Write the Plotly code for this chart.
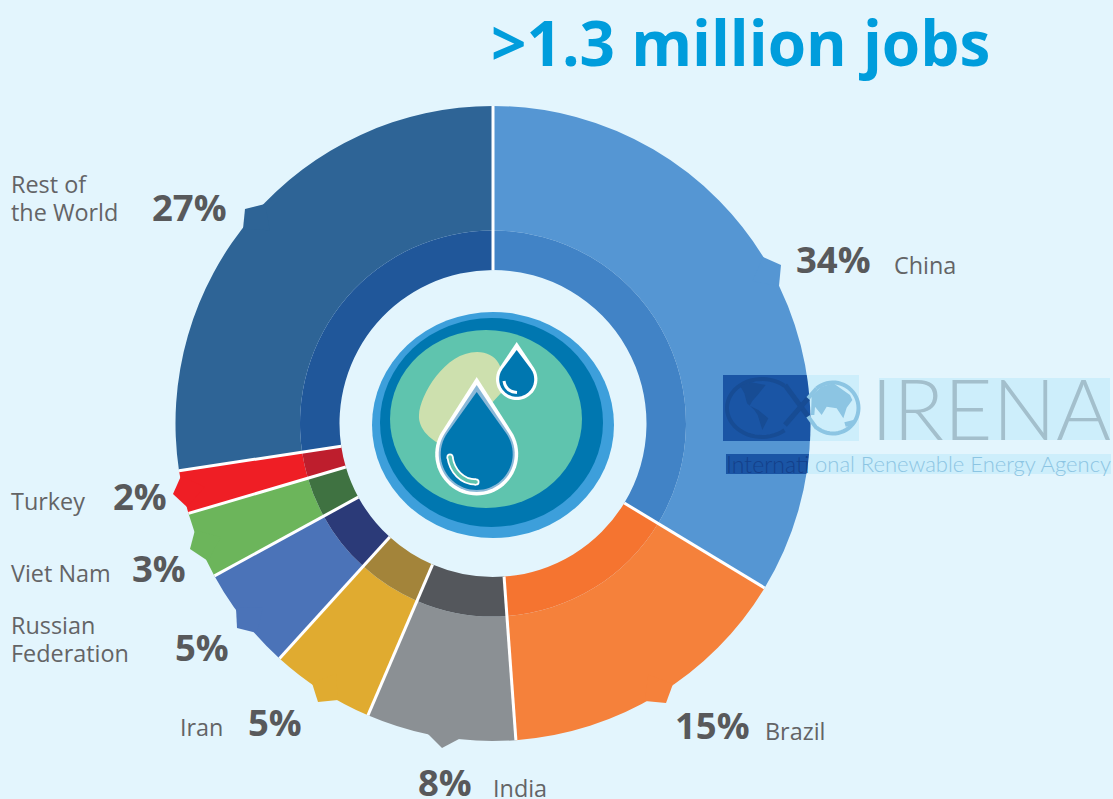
import math
import plotly.graph_objects as go

W, H = 1113, 799
categories = ["China", "Brazil", "India", "Iran", "Russian Federation", "Viet Nam", "Turkey", "Rest of the World"]
slice_values = [33.7, 15.2, 7.6, 5.3, 5.3, 3.4, 2.2, 27.4]
percent_labels = ["34%", "15%", "8%", "5%", "5%", "3%", "2%", "27%"]
outer_colors = ["#5596d3", "#f5813b", "#8b9094", "#e0ab30", "#4b73b8", "#6cb55b", "#ef1e25", "#2e6496"]
inner_colors = ["#4183c6", "#f57430", "#54575c", "#a3843a", "#2b3a78", "#3f7241", "#be1e2d", "#20579a"]

BG = "#e3f5fd"
CX, CY, R_OUT, R_MID, R_HOLE = 493, 423.5, 317.5, 193, 153.5
TXT = "#58595b"
LBL = "#636466"

def px(x, y):
    return f"{x / W:.5f},{1 - y / H:.5f}"

def poly(points, close=True):
    s = "M" + " L".join(px(x, y) for x, y in points)
    return s + (" Z" if close else "")

def fill_shape(path, color, opacity=1):
    return dict(type="path", xref="paper", yref="paper", path=path, fillcolor=color,
                line=dict(width=0), opacity=opacity, layer="above")

def stroke_shape(path, color, width):
    return dict(type="path", xref="paper", yref="paper", path=path, fillcolor="rgba(0,0,0,0)",
                line=dict(color=color, width=width), layer="above")

def ellipse(cx, cy, rx, ry, color):
    return dict(type="circle", xref="paper", yref="paper", x0=(cx - rx) / W, x1=(cx + rx) / W,
                y0=1 - (cy + ry) / H, y1=1 - (cy - ry) / H, fillcolor=color, line=dict(width=0), layer="above")

def rect(x0, y0, x1, y1, color):
    return dict(type="rect", xref="paper", yref="paper", x0=x0 / W, x1=x1 / W, y0=1 - y1 / H, y1=1 - y0 / H,
                fillcolor=color, line=dict(width=0), layer="above")

def teardrop(cx, cy, r, tip_y):
    d = cy - tip_y
    a = math.acos(r / d)
    pts = [(cx, tip_y)]
    n = 48
    start = -math.pi / 2 + a
    end = 3 * math.pi / 2 - a
    for i in range(n + 1):
        t = start + (end - start) * i / n
        pts.append((cx + r * math.cos(t), cy + r * math.sin(t)))
    return poly(pts)

fig = go.Figure()
fig.add_trace(go.Pie(labels=categories, values=slice_values, sort=False, direction="clockwise", rotation=0,
                     hole=R_MID / R_OUT, textinfo="none", showlegend=False, marker=dict(colors=outer_colors),
                     domain=dict(x=[(CX - R_OUT) / W, (CX + R_OUT) / W],
                                 y=[1 - (CY + R_OUT) / H, 1 - (CY - R_OUT) / H])))
fig.add_trace(go.Pie(labels=categories, values=slice_values, sort=False, direction="clockwise", rotation=0,
                     hole=R_HOLE / R_MID, textinfo="none", showlegend=False, marker=dict(colors=inner_colors),
                     domain=dict(x=[(CX - R_MID) / W, (CX + R_MID) / W],
                                 y=[1 - (CY + R_MID) / H, 1 - (CY - R_MID) / H])))

shapes = []

# callout notches on the outer rim
notches = [
    ([(763, 257), (781, 265), (779, 286)], outer_colors[0]),
    ([(673, 684), (666, 703), (645, 701)], outer_colors[1]),
    ([(459, 739), (442, 748), (428, 734)], outer_colors[2]),
    ([(338, 700), (318, 702), (312, 683)], outer_colors[3]),
    ([(257, 633), (237, 628), (236, 608)], outer_colors[4]),
    ([(208, 561), (190, 549), (195, 530)], outer_colors[5]),
    ([(181, 476), (173, 494), (187, 507)], outer_colors[6]),
    ([(265, 204), (245, 209), (243, 229)], outer_colors[7]),
]
for pts, col in notches:
    mx = sum(p[0] for p in pts) / 3
    my = sum(p[1] for p in pts) / 3
    d = math.hypot(mx - CX, my - CY)
    inner = (mx + (CX - mx) * 25 / d, my + (CY - my) * 25 / d)
    shapes.append(fill_shape(poly(pts + [inner]), col))

# white separators derived from the slice values
total = sum(slice_values)
cum = 0
for v in slice_values:
    ang = cum / total * 2 * math.pi
    sx, sy = math.sin(ang), -math.cos(ang)
    shapes.append(stroke_shape(poly([(CX + R_HOLE * sx, CY + R_HOLE * sy), (CX + R_OUT * sx, CY + R_OUT * sy)], False),
                               "white", 3))
    cum += v

# centre icon
big_hi = f"M{px(450, 457)} C{px(452, 471)} {px(462, 482)} {px(476, 482)}"
shapes += [
    ellipse(493, 425, 121, 113, "#3d9fdb"),
    ellipse(491.5, 422.5, 111.5, 104.5, "#0077b0"),
    ellipse(486, 419, 96, 89, "#5fc4ae"),
    fill_shape(f"M{px(477, 352)} C{px(497, 352)} {px(506, 368)} {px(502, 392)} L{px(450, 448)} "
               f"C{px(430, 442)} {px(418, 428)} {px(419, 415)} C{px(420, 395)} {px(445, 352)} {px(477, 352)} Z", "#cde0ae"),
    fill_shape(teardrop(476.7, 454, 41.5, 377), "white"),
    fill_shape(teardrop(476.7, 454, 38, 385), "#8ab8d8"),
    fill_shape(teardrop(476.7, 454, 36, 392), "#0077b0"),
    ellipse(450, 457, 3.5, 3.5, "white"),
    ellipse(476, 482, 3.5, 3.5, "white"),
    stroke_shape(big_hi, "white", 7),
    ellipse(450, 457, 1.8, 1.8, "#5fc4ae"),
    ellipse(476, 482, 1.8, 1.8, "#5fc4ae"),
    stroke_shape(big_hi, "#5fc4ae", 3.5),
    fill_shape(teardrop(516.7, 379.3, 20.7, 342), "white"),
    fill_shape(teardrop(516.7, 379.3, 17.5, 350), "#0077b0"),
    stroke_shape(f"M{px(504, 381)} C{px(505, 388)} {px(510, 392)} {px(517, 392.5)}", "white", 3),
]

# watermark
def rim_x(y):
    return CX + math.sqrt(R_OUT ** 2 - (y - CY) ** 2)

LOGO_BG = "#cdeefb"
LOGO_DARK = "#1a55a5"
LOGO_DARKER = "#174c94"
LOGO_MID = "#8cc5e3"
shapes += [
    rect(723, 375, 859, 441, LOGO_BG),
    rect(879, 378, 1110, 440, LOGO_BG),
    rect(726, 454, 1111, 474, LOGO_BG),
    fill_shape(poly([(723, 375)] + [(rim_x(375 + i * 6.6), 375 + i * 6.6) for i in range(11)] + [(723, 441)]), LOGO_DARK),
    fill_shape(poly([(726, 454)] + [(rim_x(454 + i * 2), 454 + i * 2) for i in range(11)] + [(726, 474)]), LOGO_DARK),
]

def z(x, y):
    return (715 + x / 3, 365 + y / 3)

def arc(cx, cy, rx, ry, a0, a1, n=40):
    return [(cx + rx * math.cos(math.radians(a0 + (a1 - a0) * i / n)),
             cy + ry * math.sin(math.radians(a0 + (a1 - a0) * i / n))) for i in range(n + 1)]

americas = [(75, 62), (110, 52), (152, 60), (128, 90), (112, 108), (104, 122), (130, 135), (160, 160), (142, 195),
            (128, 150), (118, 135), (96, 115), (88, 85)]
asia = [(290, 92), (320, 65), (355, 55), (405, 90), (412, 105), (395, 128), (385, 160), (365, 130), (335, 125),
        (320, 150), (300, 125), (298, 150), (288, 150)]
australia = [(388, 172), (415, 165), (410, 182), (392, 185)]
shapes += [
    stroke_shape(poly(arc(833, 408, 25.5, 25.5, -130, 130), False), LOGO_MID, 4),
    fill_shape(poly([z(x, y) for x, y in asia]), LOGO_MID),
    fill_shape(poly([z(x, y) for x, y in australia]), LOGO_MID),
    stroke_shape(poly(arc(762, 408, 35, 29, 50, 310), False), LOGO_DARKER, 4),
    fill_shape(poly([z(x, y) for x, y in americas]), LOGO_DARKER),
    stroke_shape(poly([z(210, 60), z(279, 154)], False), LOGO_DARKER, 5),
    stroke_shape(poly([z(210, 180), z(279, 100)], False), LOGO_DARKER, 5),
    stroke_shape(poly([z(279, 154), z(305, 190)], False), LOGO_MID, 4),
    stroke_shape(poly([z(279, 100), z(305, 70)], False), LOGO_MID, 4),
]

annotations = []
def text(x, y, s, size, color, weight=400, anchor="left", family="Open Sans"):
    annotations.append(dict(xref="paper", yref="paper", x=x / W, y=1 - y / H, text=s, showarrow=False,
                            xanchor=anchor, yanchor="middle", xshift=0, yshift=0, borderpad=0, borderwidth=0,
                            font=dict(family=family, size=size, color=color, weight=weight)))

text(491, 42, "&gt;1.3 million jobs", 62, "#009ddc", 700)

pct_pos = [(796, 259), (675, 725), (418, 782), (248, 722), (175, 647), (132, 568), (113, 496), (152, 207)]
name_lines = [
    [("China", 894, 265)],
    [("Brazil", 765, 731)],
    [("India", 493, 788)],
    [("Iran", 180, 727)],
    [("Russian", 11, 625), ("Federation", 11, 653)],
    [("Viet Nam", 11, 573)],
    [("Turkey", 11, 501)],
    [("Rest of", 11, 184), ("the World", 11, 212)],
]
for pct, (x, y), lines in zip(percent_labels, pct_pos, name_lines):
    text(x, y, pct, 36.5, TXT, 700)
    for s, lx, ly in lines:
        text(lx, ly, s, 23.4, LBL, 400)

text(871, 408, "IRENA", 84, "#a3bfcc", 300, "left", "Lato")
text(726, 464, "Internati", 23, "#14408a", 300, "left", "Lato")
text(1111, 464, "onal Renewable Energy Agency", 22, LOGO_MID, 300, "right", "Lato")

fig.update_layout(width=W, height=H, autosize=False, margin=dict(l=0, r=0, t=0, b=0, pad=0),
                  paper_bgcolor=BG, plot_bgcolor=BG, shapes=shapes, annotations=annotations, showlegend=False)
fig.write_html("out.html", config={"displayModeBar": False},
               post_script="document.body.style.margin='0';document.documentElement.style.overflow='hidden';")
